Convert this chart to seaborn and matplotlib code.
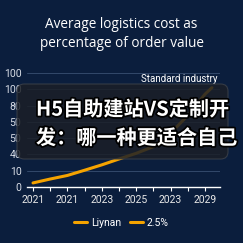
import numpy as np
import pandas as pd
import matplotlib
matplotlib.use("Agg")
import matplotlib.pyplot as plt
import seaborn as sns
from matplotlib.patches import FancyBboxPatch
from matplotlib.lines import Line2D
import matplotlib.patheffects as pe

# ---- data ----
periods = [2021.0, 2021.5, 2022.0, 2022.5, 2023.0, 2023.5, 2024.0, 2024.5,
           2025.0, 2025.5, 2026.0, 2026.2]
liynan = [2.5, 4.9, 7.1, 10.3, 13.6, 17.2, 20.7, 24.8, 33.0, 44.0, 57.0, 61.0]
x_ticks = [2021.0, 2021.5, 2022.0, 2022.5, 2023.0, 2023.5, 2024.0, 2024.5,
           2025.0, 2025.5, 2026.0]
x_labels = ["2021", "", "2021", "", "2023", "", "2025", "", "2023", "", "2029"]
y_ticks = [0, 10, 20, 30, 40, 50, 60, 70]
y_labels = ["0", "10", "40", "50", "50", "80", "100", "100"]
series_names = ["Liynan", "2.5%"]
title_text = "Average logistics cost as\npercentage of order value"
note_text = "Standard industry"
overlay_text = "H5自助建站VS定制开\n发：哪一种更适合自己"

df = pd.DataFrame({"period": periods, "value": liynan, "series": "Liynan"})

BG = "#0b1e3d"
ORANGE = "#f5a300"

sns.set_theme(style="dark")
plt.rcParams["font.family"] = ["Roboto", "DejaVu Sans"]

fig = plt.figure(figsize=(2.43, 2.43), dpi=100, facecolor=BG)
ax = fig.add_axes([27/243, 1 - 187/243, 193/243, 114/243])
ax.set_facecolor(BG)

sns.lineplot(data=df, x="period", y="value", ax=ax, color=ORANGE,
             linewidth=2.2, legend=False)

ax.set_xlim(2020.825, 2026.435)
ax.set_ylim(0, 70)
ax.set_xticks(x_ticks)
ax.set_xticklabels(x_labels)
ax.set_yticks(y_ticks)
ax.set_yticklabels(y_labels)
ax.set_xlabel("")
ax.set_ylabel("")
for s in ["top", "right", "left"]:
    ax.spines[s].set_visible(False)
ax.spines["bottom"].set_color("white")
ax.spines["bottom"].set_linewidth(1.0)
ax.grid(axis="y", color="#33496b", linewidth=0.7)
ax.grid(axis="x", visible=False)
ax.tick_params(axis="x", colors="white", labelcolor="#e8e8e8", labelsize=7.5,
               length=3, width=0.8, direction="out", pad=3, bottom=True)
ax.tick_params(axis="y", colors="#d8dde6", labelsize=7.5, length=0, pad=4)

fig.text(0.5, 1 - 34/243, title_text, ha="center", va="center",
         color="white", fontsize=9.8, linespacing=1.3,
         family=["Open Sans", "DejaVu Sans"])
fig.text(217/243, 1 - 79/243, note_text, ha="right", va="center",
         color="white", fontsize=7)

handles = [Line2D([0], [0], color=ORANGE, lw=2.2) for _ in series_names]
leg = fig.legend(handles, series_names, loc="center", bbox_to_anchor=(0.5, 1 - 223/243),
                 ncol=2, frameon=False, fontsize=7.5, handlelength=1.2,
                 handletextpad=0.4, columnspacing=0.9)
for t in leg.get_texts():
    t.set_color("white")

box = FancyBboxPatch((17/243, 1 - 159/243), (228 - 17)/243, (159 - 84)/243,
                     boxstyle="round,pad=0,rounding_size=0.03",
                     transform=fig.transFigure, facecolor="#1b1f27",
                     edgecolor="#3b4049", linewidth=0.8, alpha=0.85, zorder=5)
fig.patches.append(box)

fig.text(36/243, 1 - 123.5/243, overlay_text, ha="left", va="center",
         color="white", fontsize=14.5, fontweight="bold", linespacing=1.45,
         family=["Noto Sans CJK SC", "DejaVu Sans"], zorder=6,
         path_effects=[pe.withStroke(linewidth=2.5, foreground="black")])

fig.savefig("out.png", dpi=100, facecolor=BG)
